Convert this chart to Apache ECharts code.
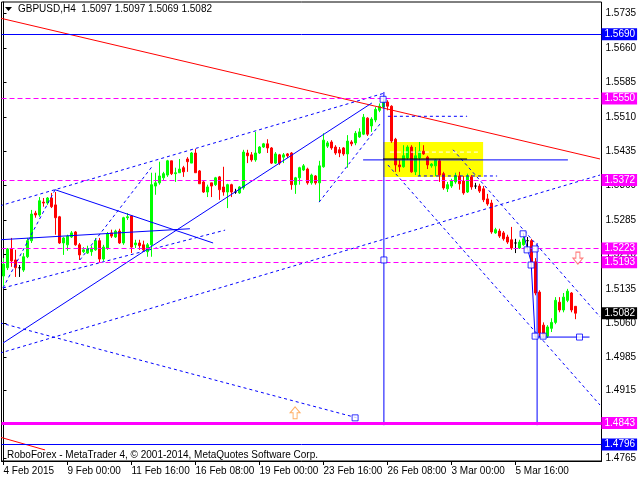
<!DOCTYPE html>
<html><head><meta charset="utf-8">
<script src="https://cdn.jsdelivr.net/npm/echarts@6/dist/echarts.min.js"></script>
<style>html,body{margin:0;padding:0;background:#fff}#c{width:640px;height:480px}</style>
</head><body><div id="c"></div>
<script>
const FONT = 'Tahoma, "Liberation Sans", Arial, sans-serif';

// ---- H4 candles (bar index 0..143) ----
const opens  = [1.5163,1.5181,1.5222,1.5198,1.5181,1.5176,1.5205,1.5240,1.5300,1.5296,1.5324,1.5322,1.5333,1.5318,1.5292,1.5235,1.5231,1.5248,1.5259,1.5231,
1.5216,1.5213,1.5216,1.5220,1.5240,1.5200,1.5224,1.5257,1.5248,1.5261,1.5235,1.5290,1.5294,1.5231,1.5235,1.5231,1.5216,1.5231,1.5359,1.5366,
1.5377,1.5383,1.5414,1.5386,1.5388,1.5399,1.5418,1.5409,1.5431,1.5392,1.5368,1.5346,1.5366,1.5362,1.5379,1.5357,1.5346,1.5362,1.5346,1.5344,
1.5355,1.5431,1.5427,1.5416,1.5431,1.5444,1.5451,1.5442,1.5409,1.5427,1.5422,1.5429,1.5431,1.5362,1.5377,1.5394,1.5396,1.5366,1.5381,1.5366,
1.5401,1.5446,1.5455,1.5444,1.5438,1.5442,1.5429,1.5455,1.5453,1.5466,1.5472,1.5507,1.5490,1.5503,1.5524,1.5531,1.5542,1.5533,1.5461,1.5405,
1.5401,1.5420,1.5444,1.5390,1.5420,1.5435,1.5422,1.5403,1.5403,1.5414,1.5386,1.5353,1.5359,1.5368,1.5381,1.5370,1.5346,1.5379,1.5359,1.5359,
1.5353,1.5331,1.5322,1.5257,1.5261,1.5257,1.5248,1.5242,1.5235,1.5224,1.5231,1.5240,1.5240,1.5194,1.5128,1.5056,1.5032,1.5049,1.5062,1.5106,
1.5089,1.5110,1.5126,1.5097];
const closes = [1.5189,1.5222,1.5196,1.5181,1.5181,1.5205,1.5240,1.5298,1.5296,1.5327,1.5322,1.5333,1.5314,1.5290,1.5235,1.5246,1.5250,1.5257,1.5231,1.5209,
1.5220,1.5222,1.5224,1.5240,1.5200,1.5226,1.5255,1.5250,1.5261,1.5235,1.5290,1.5292,1.5226,1.5235,1.5229,1.5220,1.5231,1.5362,1.5366,1.5381,
1.5386,1.5414,1.5386,1.5388,1.5396,1.5390,1.5412,1.5431,1.5388,1.5364,1.5346,1.5357,1.5359,1.5377,1.5351,1.5346,1.5362,1.5346,1.5346,1.5357,
1.5433,1.5425,1.5416,1.5431,1.5444,1.5451,1.5442,1.5409,1.5429,1.5409,1.5427,1.5425,1.5362,1.5377,1.5399,1.5403,1.5366,1.5383,1.5366,1.5403,
1.5459,1.5453,1.5442,1.5431,1.5431,1.5429,1.5457,1.5451,1.5474,1.5477,1.5509,1.5472,1.5505,1.5526,1.5533,1.5542,1.5533,1.5457,1.5405,1.5401,
1.5425,1.5444,1.5390,1.5425,1.5435,1.5429,1.5405,1.5407,1.5416,1.5383,1.5355,1.5362,1.5370,1.5381,1.5364,1.5344,1.5381,1.5357,1.5359,1.5348,
1.5329,1.5320,1.5259,1.5264,1.5250,1.5244,1.5237,1.5224,1.5235,1.5237,1.5244,1.5240,1.5194,1.5126,1.5039,1.5034,1.5052,1.5062,1.5110,1.5089,
1.5117,1.5130,1.5089,1.5082];
const lows   = [1.5137,1.5176,1.5183,1.5161,1.5161,1.5172,1.5202,1.5235,1.5290,1.5292,1.5314,1.5318,1.5311,1.5253,1.5233,1.5209,1.5218,1.5246,1.5229,1.5198,
1.5213,1.5211,1.5207,1.5218,1.5192,1.5196,1.5220,1.5246,1.5246,1.5233,1.5231,1.5285,1.5213,1.5224,1.5220,1.5216,1.5205,1.5205,1.5340,1.5362,
1.5372,1.5379,1.5383,1.5368,1.5388,1.5379,1.5390,1.5409,1.5388,1.5364,1.5344,1.5335,1.5335,1.5359,1.5329,1.5338,1.5311,1.5335,1.5342,1.5342,
1.5351,1.5409,1.5412,1.5412,1.5429,1.5442,1.5431,1.5407,1.5407,1.5405,1.5409,1.5420,1.5351,1.5342,1.5362,1.5392,1.5362,1.5362,1.5362,1.5324,
1.5399,1.5442,1.5438,1.5427,1.5422,1.5425,1.5399,1.5446,1.5448,1.5464,1.5470,1.5468,1.5477,1.5498,1.5520,1.5529,1.5524,1.5453,1.5390,1.5390,
1.5399,1.5416,1.5388,1.5383,1.5381,1.5427,1.5396,1.5399,1.5381,1.5368,1.5351,1.5346,1.5355,1.5364,1.5351,1.5340,1.5344,1.5351,1.5353,1.5344,
1.5324,1.5316,1.5255,1.5255,1.5246,1.5240,1.5233,1.5220,1.5213,1.5222,1.5229,1.5226,1.5189,1.5121,1.5030,1.5030,1.5028,1.5041,1.5058,1.5084,
1.5084,1.5106,1.5084,1.5069];
const highs  = [1.5202,1.5224,1.5246,1.5220,1.5187,1.5213,1.5246,1.5307,1.5305,1.5335,1.5333,1.5335,1.5344,1.5346,1.5294,1.5248,1.5253,1.5261,1.5261,1.5235,
1.5226,1.5229,1.5229,1.5246,1.5246,1.5231,1.5259,1.5264,1.5264,1.5266,1.5292,1.5300,1.5296,1.5242,1.5242,1.5240,1.5235,1.5388,1.5388,1.5412,
1.5390,1.5416,1.5414,1.5399,1.5418,1.5403,1.5422,1.5433,1.5440,1.5394,1.5372,1.5362,1.5366,1.5379,1.5381,1.5401,1.5364,1.5364,1.5353,1.5359,
1.5438,1.5438,1.5433,1.5477,1.5446,1.5453,1.5461,1.5444,1.5433,1.5429,1.5431,1.5431,1.5433,1.5379,1.5401,1.5407,1.5399,1.5386,1.5383,1.5414,
1.5474,1.5457,1.5459,1.5448,1.5444,1.5444,1.5470,1.5459,1.5479,1.5485,1.5516,1.5509,1.5509,1.5531,1.5539,1.5548,1.5546,1.5535,1.5464,1.5416,
1.5448,1.5448,1.5448,1.5444,1.5455,1.5448,1.5425,1.5409,1.5418,1.5418,1.5390,1.5368,1.5375,1.5388,1.5390,1.5381,1.5386,1.5383,1.5366,1.5364,
1.5359,1.5342,1.5329,1.5268,1.5266,1.5261,1.5253,1.5270,1.5244,1.5242,1.5250,1.5248,1.5244,1.5202,1.5132,1.5062,1.5056,1.5071,1.5117,1.5117,
1.5126,1.5135,1.5128,1.5097];

const barCount = 150; // slots incl. empty right margin
const xTickIndex = [0,16,32,48,64,80,96,112,128];
const xTickText  = ['4 Feb 2015','9 Feb 00:00','11 Feb 16:00','16 Feb 08:00','19 Feb 00:00','23 Feb 16:00','26 Feb 08:00','3 Mar 00:00','5 Mar 16:00'];
const yTicks = [1.5735,1.5660,1.5585,1.5510,1.5435,1.5360,1.5285,1.5210,1.5135,1.5060,1.4985,1.4915,1.4765];

// horizontal levels
const magentaDashLevels = [1.5550,1.5372,1.5223,1.5193];
const magentaThickLevel = 1.4843;
const blueLevels = [1.5690,1.4796];
const lastPrice = 1.5082;

// drawn objects: [barIndex, price]
const redLines = [
  [[-0.875,1.5725],[149.125,1.5418]],
  [[-0.875,1.4812],[10.4,1.4784]]
];
const blueSolidLines = [
  [[-0.125,1.5017],[92.1,1.5540]],
  [[-0.875,1.5242],[46.6,1.5266]],
  [[12.9,1.5351],[52.4,1.5235]],
  [[89.9,1.5416],[141.1,1.5416]],
  [[95.1,1.5564],[95.1,1.4838]],
  [[133.4,1.5235],[133.4,1.4838]],
  [[129.9,1.5257],[131.9,1.5194],[132.9,1.5030]],
  [[132.9,1.5030],[146.5,1.5030]]
];
const blueDashLines = [
  [[-0.875,1.5316],[95.4,1.5562]],
  [[-0.125,1.5137],[55.4,1.5263]],
  [[-0.125,1.5137],[12.9,1.5351]],
  [[19.1,1.5198],[37.1,1.5401]],
  [[78.9,1.5324],[94.1,1.5494]],
  [[-0.875,1.4995],[149.125,1.5383]],
  [[-0.875,1.5061],[88.4,1.4854]],
  [[96.1,1.5405],[149.125,1.4882]],
  [[112.4,1.5438],[149.125,1.5074]],
  [[96.1,1.5511],[115.9,1.5511]],
  [[103.6,1.5381],[123.4,1.5381]]
];
const whiteDashLines = [[[96.6,1.5433],[119.1,1.5433]]];
const blackLines = [[[94.9,1.5418],[115.9,1.5418]]];
const yellowBox = [[94.9,1.5455],[119.9,1.5379]];
const anchorPoints = [[94.9,1.5548],[95.1,1.5198],[87.9,1.4854],[129.9,1.5255],[130.9,1.5220],[132.9,1.5222],[131.9,1.5187],[132.9,1.5032],[134.9,1.5032],[144.0,1.5030]];
const upArrows = [[72.9,1.4865]];
const downArrows = [[143.6,1.5202]];

// ---- build ----
const categories = [];
for (let i = 0; i < barCount; i++) categories.push(String(i));
const labelMap = {};
xTickIndex.forEach((k, j) => labelMap[k] = xTickText[j]);
const tickSet = new Set(xTickIndex);

const candleData = opens.map((o, i) => {
  const v = [o, closes[i], lows[i], highs[i]];
  if (o === closes[i]) return {value: v, itemStyle: {color:'#000', color0:'#000', borderColor:'#000', borderColor0:'#000'}};
  return v;
});

function seg(data, color, type, width, z) {
  return {type:'line', xAxisIndex:1, yAxisIndex:0, data:data, symbol:'none', silent:true, animation:false,
    lineStyle:{color:color, type:type, width:width}, z:z, clip:true};
}
const lbl = (txt, bg) => ({show:true, position:'end', formatter:txt, backgroundColor:bg, color:'#fff',
  padding:[1,2,0,3], fontSize:10, lineHeight:11, fontFamily:FONT, distance:0});

const markData = [];
magentaDashLevels.forEach(p => markData.push({yAxis:p, lineStyle:{color:'#ff00ff', type:[5,3], width:1}, label:lbl(p.toFixed(4), '#ff00ff')}));
markData.push({yAxis:magentaThickLevel, lineStyle:{color:'#ff00ff', type:'solid', width:3}, label:lbl(magentaThickLevel.toFixed(4), '#ff00ff')});
blueLevels.forEach(p => markData.push({yAxis:p, lineStyle:{color:'#0000ff', type:'solid', width:1}, label:lbl(p.toFixed(4), '#0000ff')}));
markData.push({yAxis:lastPrice, lineStyle:{color:'rgba(0,0,0,0)', width:0}, label:lbl(lastPrice.toFixed(4), '#000000')});

const series = [];
series.push({type:'line', xAxisIndex:1, yAxisIndex:0, data:[], z:1, silent:true, animation:false,
  markArea:{silent:true, itemStyle:{color:'#ffff00'}, data:[[{xAxis:yellowBox[0][0], yAxis:yellowBox[0][1]},{xAxis:yellowBox[1][0], yAxis:yellowBox[1][1]}]]}});
series.push({type:'candlestick', xAxisIndex:0, yAxisIndex:0, data:candleData, barWidth:2, z:2, silent:true, animation:false,
  itemStyle:{color:'#00ff00', color0:'#ff0000', borderColor:'#00ff00', borderColor0:'#ff0000', borderWidth:1}});
redLines.forEach(s => series.push(seg(s, '#ff0000', 'solid', 1, 3)));
blueSolidLines.forEach(s => series.push(seg(s, '#0000ff', 'solid', 1, 3)));
blueDashLines.forEach(s => series.push(seg(s, '#0000ff', [3,3], 1, 3)));
whiteDashLines.forEach(s => series.push(seg(s, '#ffffff', [4,3], 1, 3)));
blackLines.forEach(s => series.push(seg(s, '#000000', 'solid', 1, 3)));
series.push({type:'line', xAxisIndex:1, yAxisIndex:0, data:[], z:4, silent:true, animation:false,
  markLine:{symbol:['none','none'], precision:4, silent:true, animation:false, data:markData}});
series.push({type:'scatter', xAxisIndex:1, yAxisIndex:0, data:anchorPoints, symbol:'rect', symbolSize:6, z:5, silent:true, animation:false,
  itemStyle:{color:'#ffffff', borderColor:'#0000ff', borderWidth:1}});
series.push({type:'scatter', xAxisIndex:1, yAxisIndex:0, data:upArrows, symbol:'path://M5,0 L10,6 L7,6 L7,12 L3,12 L3,6 L0,6 Z', symbolSize:[10,12], z:5, silent:true, animation:false,
  itemStyle:{color:'#ffffff', borderColor:'#ff9a3c', borderWidth:1}});
series.push({type:'scatter', xAxisIndex:1, yAxisIndex:0, data:downArrows, symbol:'path://M3,0 L7,0 L7,6 L10,6 L5,12 L0,6 L3,6 Z', symbolSize:[10,12], z:5, silent:true, animation:false,
  itemStyle:{color:'#ffffff', borderColor:'#ff5a5a', borderWidth:1}});

const chart = echarts.init(document.getElementById('c'), null, {renderer:'canvas'});
chart.setOption({
  animation:false,
  backgroundColor:'#ffffff',
  grid:{left:1.5, right:38.5, top:2, bottom:19, show:true, borderColor:'#000', borderWidth:1, backgroundColor:'transparent'},
  xAxis:[
    {type:'category', data:categories, boundaryGap:true,
     axisLine:{show:true, lineStyle:{color:'#000'}},
     axisTick:{show:true, alignWithLabel:true, interval:(i)=>tickSet.has(i), length:4, lineStyle:{color:'#000'}},
     axisLabel:{show:true, interval:(i)=>tickSet.has(i), formatter:(v,i)=>labelMap[i]||'', align:'left', color:'#000', fontSize:10, fontFamily:FONT, margin:5},
     splitLine:{show:false}},
    {type:'value', min:-0.5, max:barCount-0.5, show:false}
  ],
  yAxis:{type:'value', position:'right', min:1.4760, max:1.5760,
    axisLine:{show:true, lineStyle:{color:'#000'}},
    axisTick:{show:true, length:3, customValues:yTicks, lineStyle:{color:'#000'}},
    axisLabel:{show:true, customValues:yTicks, formatter:(v)=>Number(v).toFixed(4), color:'#000', fontSize:10, fontFamily:FONT, margin:4},
    splitLine:{show:false}},
  graphic:[
    {type:'polygon', shape:{points:[[5,7],[12,7],[8.5,11]]}, style:{fill:'#000'}, z:100},
    {type:'text', x:18, y:4, style:{text:'GBPUSD,H4  1.5097 1.5097 1.5069 1.5082', fill:'#000', fontSize:10, fontFamily:FONT}, z:100},
    {type:'text', x:7, y:450, style:{text:'RoboForex - MetaTrader 4, © 2001-2014, MetaQuotes Software Corp.', fill:'#000', fontSize:10, fontFamily:FONT}, z:100}
  ],
  series:series
});
</script></body></html>
